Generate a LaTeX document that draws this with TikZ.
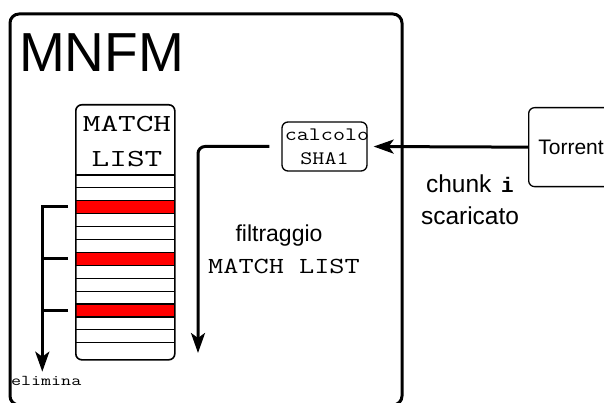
\documentclass[tikz,border=0pt]{standalone}
\usepackage{fontspec}
\usepackage{graphicx}
\setmainfont{Liberation Sans}
\newfontfamily\monobold{Liberation Mono}
\usetikzlibrary{arrows.meta}
\definecolor{rowred}{RGB}{255,0,0}

\tikzset{
  mnfmframe/.style={draw, line width=3pt, rounded corners=9pt},
  roundbox/.style={draw, line width=1.3pt, rounded corners=6pt, inner sep=0pt},
  flow/.style={line width=3pt, -{Stealth[length=20pt,width=14pt,inset=5pt]}},
  bar/.style={line width=3pt},
  rowline/.style={line width=1.2pt},
  lbl/.style={inner sep=0pt, outer sep=0pt},
  sz/.style={font=\fontsize{#1}{#1}\selectfont},
  ttsz/.style={font=\ttfamily\fontsize{#1}{#1}\selectfont},
}

\begin{document}
\begin{tikzpicture}[x=1pt,y=-1pt]
\useasboundingbox (0,0) rectangle (604,403);

% outer MNFM frame and its title
\draw[mnfmframe] (10,14) rectangle (402,405);
\node[lbl, sz=55, anchor=base west] (title) at (19,72) {MNFM};

% match list: highlighted rows, row separators, outline
\foreach \k in {2,6,10}
  \fill[rowred] (75,{175+\k*12.9}) rectangle (174,{175+(\k+1)*12.9});
\foreach \k in {0,...,13}
  \draw[rowline] (75,{175+\k*12.9}) -- (174,{175+\k*12.9});
\node[draw, line width=1.6pt, rounded corners=6pt, inner sep=0pt,
      minimum width=99pt, minimum height=255pt, anchor=north west] (list) at (75,104) {};
\node[lbl, ttsz=24.5, anchor=base] (hdrA) at (127,131.7) {\scalebox{1.4}[1]{MATCH}};
\node[lbl, ttsz=24.5, anchor=base] (hdrB) at (127,166.7) {\scalebox{1.4}[1]{LIST}};

% rows to be removed
\coordinate (rA) at (68,206.7);
\coordinate (rB) at (68,258.7);
\coordinate (rC) at (68,310.7);
\coordinate (elim) at (42.3,371.7);
\draw[flow] (rA) -| (elim);
\draw[bar] (rB) -- (rB -| elim);
\draw[bar] (rC) -- (rC -| elim);
\node[lbl, ttsz=15, anchor=base west] (elimlbl) at (11,385) {\scalebox{1.3}[1]{elimina}};

% hash computation
\node[roundbox, minimum width=85pt, minimum height=49pt] (sha) at (324.5,146.5) {};
\node[lbl, ttsz=19, anchor=base] (shaA) at (327,140.7) {\scalebox{1.23}[1]{calcolo}};
\node[lbl, ttsz=19, anchor=base] (shaB) at (324.5,165) {\scalebox{1.23}[1]{SHA1}};

% torrent source
\node[roundbox, minimum width=95pt, minimum height=79pt, anchor=north west] (torrent) at (528,107) {};
\node[lbl, sz=21, anchor=base] (torrentlbl) at (571,155) {Torrent};

% connectors
\draw[flow, shorten >=6pt] (torrent.west) -- (sha.west -| sha.east);
\coordinate (filt) at (198,353);
\draw[flow, rounded corners=7pt] ([xshift=-12pt]sha.west) -| (filt);

% labels
\node[lbl, sz=24.5, anchor=base west] (chunk) at (426,193) {chunk};
\node[lbl, font=\monobold\bfseries\fontsize{21}{21}\selectfont, anchor=base west] (chunkidx) at (501,193) {i};
\node[lbl, sz=24.5, anchor=base west] (scar) at (421,225) {scaricato};
\node[lbl, sz=23, anchor=base] (filtA) at (279,241) {filtraggio};
\node[lbl, ttsz=23, anchor=base] (filtB) at (284,273.3) {\scalebox{1.28}[1]{MATCH LIST}};
\end{tikzpicture}
\end{document}
